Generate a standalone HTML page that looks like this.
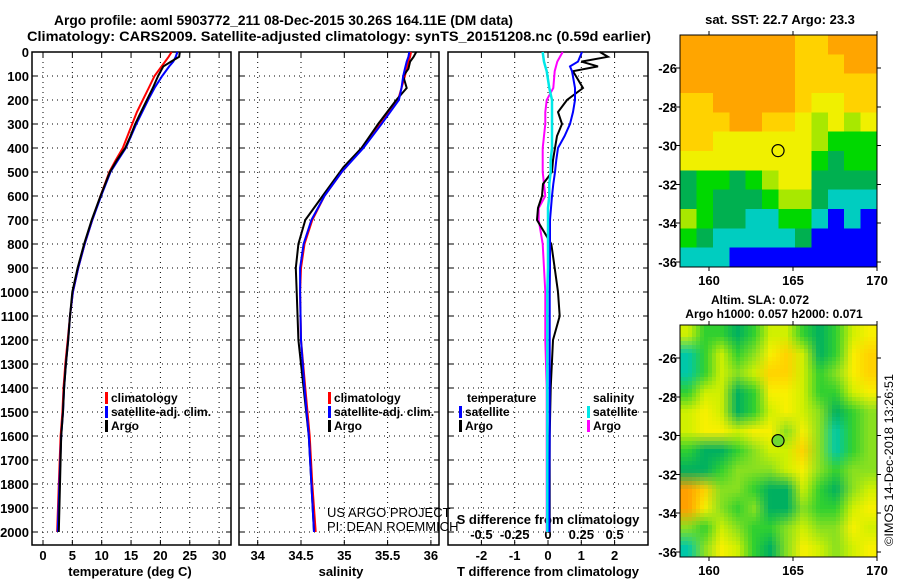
<!DOCTYPE html>
<html><head><meta charset="utf-8"><style>
html,body{margin:0;padding:0;background:#fff}
svg{display:block;font-family:"Liberation Sans",Arial,sans-serif}
.b{font-weight:bold}
</style></head><body>
<svg id="c" width="900" height="580" xmlns="http://www.w3.org/2000/svg">
<rect width="900" height="580" fill="#fff"/>
<text x="54" y="25" class="b" font-size="14" textLength="459" lengthAdjust="spacingAndGlyphs">Argo profile: aoml 5903772_211 08-Dec-2015 30.26S 164.11E (DM data)</text>
<text x="27" y="41" class="b" font-size="14" textLength="624" lengthAdjust="spacingAndGlyphs">Climatology: CARS2009. Satellite-adjusted climatology: synTS_20151208.nc (0.59d earlier)</text>
<g id="plots"></g>
<text transform="translate(893,546) rotate(-90)" font-size="12" textLength="172" lengthAdjust="spacingAndGlyphs">©IMOS 14-Dec-2018 13:26:51</text>
</svg>
<script>
// ---- data ----
const depthT = [0,20,40,60,100,150,200,250,300,350,400,450,500,600,700,800,900,1000,1100,1200,1300,1400,1500,1600,1800,2000];
const tempArgo = [23.3,23.2,21.8,20.5,19.6,18.7,17.7,16.7,15.7,14.9,14,12.6,11.4,9.8,8.3,7,5.9,5,4.6,4.3,3.9,3.6,3.4,3.1,2.9,2.7];
const tempClim = [21.9,21.4,20.8,20.2,19.0,18.0,17.0,16.0,15.2,14.4,13.6,12.4,11.3,9.8,8.4,7.1,6.0,5.1,4.6,4.2,3.8,3.5,3.3,3.0,2.7,2.4];
const tempSat = [22.9,22.6,22.2,21.5,20.3,19.0,17.9,16.9,15.9,15.0,14.1,12.8,11.5,9.9,8.4,7.1,6.0,5.1,4.6,4.3,3.9,3.6,3.4,3.1,2.8,2.5];
const depthS = [0,20,40,70,100,150,200,300,400,480,500,600,700,800,900,1000,1200,1400,1600,1800,2000];
const salArgo = [35.83,35.80,35.76,35.74,35.68,35.72,35.6,35.39,35.2,34.99,34.95,34.75,34.55,34.47,34.44,34.45,34.47,34.53,34.59,34.62,34.65];
const salClim = [35.77,35.76,35.74,35.72,35.70,35.66,35.62,35.41,35.2,35.02,34.97,34.77,34.63,34.54,34.50,34.49,34.50,34.55,34.60,34.63,34.67];
const salSat = [35.75,35.74,35.72,35.70,35.68,35.66,35.63,35.43,35.22,35.02,34.97,34.77,34.62,34.53,34.49,34.49,34.50,34.54,34.59,34.62,34.65];
const depthD = [0,20,40,60,80,150,200,250,300,350,400,450,500,550,600,650,700,800,900,1000,1100,1200,1400,1600,1800,2000];
const dTArgo = [1.56,1.8,1.0,1.5,0.75,1.05,0.57,0.3,0.42,0.27,0.21,0.15,0.12,-0.15,-0.18,-0.3,-0.33,0.1,0.2,0.3,0.35,0.15,0.08,0.05,0.05,0.05];
const dTSat = [1.02,0.96,0.9,0.66,0.72,0.81,0.81,0.75,0.66,0.5,0.3,0.25,0.21,0.16,0.12,0.09,0.06,0.06,0.06,0.05,0.05,0.05,0.05,0.05,0.04,0.04];
const dSSat = [-0.04,-0.035,-0.03,-0.02,-0.01,0.01,0.03,0.03,0.03,0.03,0.03,0.02,0.02,0.01,0.01,0.0,0.0,0.0,0.0,-0.005,-0.005,-0.005,-0.005,-0.005,-0.005,-0.005];
const dSArgo = [0.11,0.09,0.07,0.06,0.05,0.04,-0.01,-0.02,-0.02,-0.03,-0.04,-0.04,-0.04,-0.03,-0.02,-0.07,-0.07,-0.04,-0.03,-0.02,-0.02,-0.02,-0.01,-0.01,-0.01,-0.01];
const depthTicks = [0,100,200,300,400,500,600,700,800,900,1000,1100,1200,1300,1400,1500,1600,1700,1800,1900,2000];
const tempTicks = [0,5,10,15,20,25,30];
const salTicks = [34,34.5,35,35.5,36];
const salTickLabels = ["34","34.5","35","35.5","36"];
const dTTicks = [-2,-1,0,1,2];
const dSTicks = [-0.5,-0.25,0,0.25,0.5];
const dSTickLabels = ["-0.5","-0.25","0","0.25","0.5"];
const sstGrid = [
"777777766777","777777766677","777777766666","667777765566","666776654545","665555554333",
"555555553233","233234552222","232223442111","432211331010","321111120000","111000000000"];
const slaGrid = [
"422124421245","024235641256","024346642356","244125542245","454124543123","455455353023",
"211234463023","112333453233","763321142134","753231132245","324322343354","035421354345"];
const sstColors = ["#0000ff","#00cdc0","#00b050","#00d800","#a8e800","#f0f000","#ffd200","#ffa500","#ff0000"];
const slaColors = ["#00c8a8","#00b060","#30d030","#88e020","#d0f000","#f8f000","#ffd200","#ffa000","#ff0000"];
const lonTicks = [160,165,170];
const latTicks = [-26,-28,-30,-32,-34,-36];

// ---- axes ----
const NS="http://www.w3.org/2000/svg";
const root=document.getElementById('plots');
const yD = d => 52 + d*0.24;
const xT = t => 43 + t*5.87;
const xS = s => 257.7 + (s-34)*86.6;
const xDT = v => 548 + v*33.3;
const xDS = v => 548 + v*133.2;
const xLon = l => 709 + (l-160)*16.8;
const yLat1 = la => 68 + (-26-la)*19.4;
const yLat2 = la => 358 + (-26-la)*19.4;
function el(tag,attrs,parent){const e=document.createElementNS(NS,tag);for(const k in attrs)e.setAttribute(k,attrs[k]);(parent||root).appendChild(e);return e;}
function txt(s,x,y,size,anchor,bold,parent){const t=el('text',{x:x,y:y,'font-size':size,'text-anchor':anchor||'start','font-weight':bold?'bold':'normal'},parent);t.textContent=s;return t;}

const panels=[{x0:32,x1:231},{x0:239,x1:439},{x0:448,x1:648}];
const PY0=52, PY1=545;
panels.forEach((p,i)=>{
  const g=el('g',{});
  
  
  depthTicks.forEach(d=>{
    const y=yD(d);
    if(d>0) el('line',{x1:p.x0,x2:p.x1,y1:y,y2:y,stroke:'#000','stroke-width':1,'stroke-dasharray':'1,4'},g);
    el('line',{x1:p.x0,x2:p.x0+5,y1:y,y2:y,stroke:'#000'},g);
    el('line',{x1:p.x1-5,x2:p.x1,y1:y,y2:y,stroke:'#000'},g);
    if(i===0){const t=txt(String(d),29,y+5,13,'end',true,g);}
  });
  el('rect',{x:p.x0,y:PY0,width:p.x1-p.x0,height:PY1-PY0,fill:'none',stroke:'#000','stroke-width':1.5},g);
});
function vgrid(vals,fx){vals.forEach(v=>{const x=fx(v);el('line',{x1:x,x2:x,y1:PY0,y2:PY1,stroke:'#000','stroke-dasharray':'1,4'});el('line',{x1:x,x2:x,y1:PY0,y2:PY0+5,stroke:'#000'});el('line',{x1:x,x2:x,y1:PY1-5,y2:PY1,stroke:'#000'});});}
vgrid(tempTicks,xT);vgrid(salTicks,xS);vgrid(dTTicks,xDT);
tempTicks.forEach(v=>{const t=txt(String(v),xT(v),560,13,'middle',true);});
salTicks.forEach((v,i)=>{const t=txt(salTickLabels[i],xS(v),560,13,'middle',true);});
dTTicks.forEach(v=>{const t=txt(String(v),xDT(v),560,13,'middle',true);});
dSTicks.forEach((v,i)=>{const t=txt(dSTickLabels[i],xDS(v),539,13,'middle',true);});
let t;
t=txt('temperature (deg C)',130,576,13,'middle',true);
t=txt('salinity',341,576,13,'middle',true);
t=txt('T difference from climatology',548,576,13,'middle',true);
t=txt('S difference from climatology',548,524,13,'middle',true);

function series(depths,vals,fx,color,name,w){
  const pts=depths.map((d,i)=>fx(vals[i]).toFixed(1)+','+yD(d).toFixed(1)).join(' ');
  const pl=el('polyline',{points:pts,fill:'none',stroke:color,'stroke-width':w||2});
  
  
}
series(depthT,tempClim,xT,'#ff0000','temp-climatology-line');
series(depthT,tempSat,xT,'#0000ff','temp-satellite-line');
series(depthT,tempArgo,xT,'#000000','temp-argo-line');
series(depthS,salClim,xS,'#ff0000','sal-climatology-line');
series(depthS,salArgo,xS,'#000000','sal-argo-line');
series(depthS,salSat,xS,'#0000ff','sal-satellite-line');
series(depthD,dSArgo,xDS,'#ff00ff','sdiff-argo-line');
series(depthD,dTArgo,xDT,'#000000','tdiff-argo-line');
series(depthD,dTSat,xDT,'#0000ff','tdiff-satellite-line');
series(depthD,dSSat,xDS,'#00e8e8','sdiff-satellite-line',2.5);

function legendEntry(x,y,color,label,name){
  const g=el('g',{});
  
  
  el('rect',{x:x,y:y-10,width:3,height:12,fill:color},g);
  txt(label,x+6,y,12,'start',true,g);
}
legendEntry(105,402,'#ff0000','climatology','legend-temp-climatology');
legendEntry(105,416,'#0000ff','satellite-adj. clim.','legend-temp-satellite');
legendEntry(105,430,'#000000','Argo','legend-temp-argo');
legendEntry(328,402,'#ff0000','climatology','legend-sal-climatology');
legendEntry(328,416,'#0000ff','satellite-adj. clim.','legend-sal-satellite');
legendEntry(328,430,'#000000','Argo','legend-sal-argo');
t=txt('temperature',467,402,12,'start',true);
legendEntry(459,416,'#0000ff','satellite','legend-tdiff-satellite');
legendEntry(459,430,'#000000','Argo','legend-tdiff-argo');
t=txt('salinity',593,402,12,'start',true);
legendEntry(587,416,'#00e8e8','satellite','legend-sdiff-satellite');
legendEntry(587,430,'#ff00ff','Argo','legend-sdiff-argo');
t=txt('US ARGO PROJECT',327,517,13,'start',false);
t=txt('PI: DEAN ROEMMICH',327,531,13,'start',false);

// ---- maps ----
function hex(c){return [parseInt(c.slice(1,3),16),parseInt(c.slice(3,5),16),parseInt(c.slice(5,7),16)];}
function drawMap(grid,colors,mx0,my0,mx1,my1,yl,name,circleFill,smooth){
  const g=el('g',{'shape-rendering':'crispEdges'});
  
  
  const rows=grid.length, cols=grid[0].length;
  const cw=(mx1-mx0)/cols, ch=(my1-my0)/rows;
  if(!smooth){
    grid.forEach((row,r)=>{for(let c=0;c<cols;c++){
      const cell=el('rect',{x:mx0+c*cw,y:my0+r*ch,width:cw+0.6,height:ch+0.6,fill:colors[+row[c]]},g);
      
      
    }});
  } else {
    const rgb=colors.map(hex); const S=4;
    const val=(r,c)=>rgb[+grid[Math.max(0,Math.min(rows-1,r))][Math.max(0,Math.min(cols-1,c))]];
    for(let y=my0;y<my1;y+=S){for(let x=mx0;x<mx1;x+=S){
      const fc=(x+S/2-mx0)/cw-0.5, fr=(y+S/2-my0)/ch-0.5;
      const c0=Math.floor(fc), r0=Math.floor(fr), ax=fc-c0, ay=fr-r0;
      const a=val(r0,c0),b=val(r0,c0+1),cc=val(r0+1,c0),d=val(r0+1,c0+1);
      const col=[0,1,2].map(k=>Math.round((a[k]*(1-ax)+b[k]*ax)*(1-ay)+(cc[k]*(1-ax)+d[k]*ax)*ay));
      const cell=el('rect',{x:x,y:y,width:Math.min(S,mx1-x)+0.3,height:Math.min(S,my1-y)+0.3,fill:'rgb('+col.join(',')+')'},g);
      
      
    }}
  }
  el('rect',{x:mx0,y:my0,width:mx1-mx0,height:my1-my0,fill:'none',stroke:'#000','stroke-width':1},g);
  lonTicks.forEach(l=>{const x=xLon(l);el('line',{x1:x,x2:x,y1:my0-4,y2:my0,stroke:'#000'},g);el('line',{x1:x,x2:x,y1:my1,y2:my1+4,stroke:'#000'},g);
    const tl=txt(String(l),x,my1+18,13,'middle',true);});
  latTicks.forEach(la=>{const y=yl(la);el('line',{x1:mx0-4,x2:mx0,y1:y,y2:y,stroke:'#000'},g);el('line',{x1:mx1,x2:mx1+4,y1:y,y2:y,stroke:'#000'},g);
    const tl=txt(String(la),677,y+5,13,'end',true);});
  const c=el('circle',{cx:xLon(164.11),cy:yl(-30.26),r:6,fill:circleFill,stroke:'#000','stroke-width':1.2});
  
  
}
drawMap(sstGrid,sstColors,680,35,877,267,yLat1,'sst-map','none',false);
drawMap(slaGrid,slaColors,680,325,877,557,yLat2,'sla-map','#70d830',true);
t=txt('sat. SST: 22.7 Argo: 23.3',780,24,13,'middle',true);
t=txt('Altim. SLA: 0.072',760,304,12,'middle',true);
t=txt('Argo h1000: 0.057 h2000: 0.071',774,318,12,'middle',true);
</script>
</body></html>
